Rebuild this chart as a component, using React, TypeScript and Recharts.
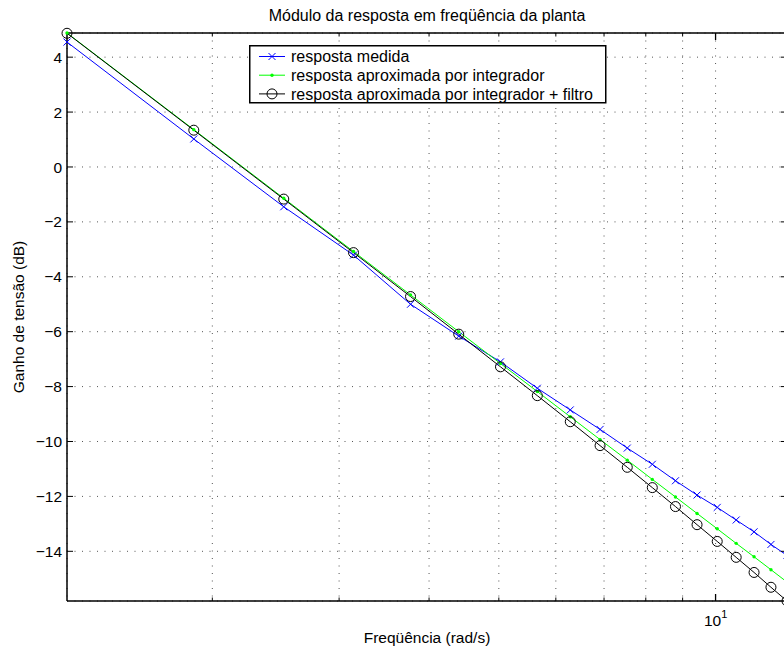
import React from "react";
import {
  CartesianGrid,
  Customized,
  Legend,
  Line,
  LineChart,
  ReferenceLine,
  XAxis,
  YAxis,
} from "recharts";

// frequências (rad/s) e ganhos (dB)
const freq = [
  1.2566, 1.885, 2.5133, 3.1416, 3.7699, 4.3982, 5.0265, 5.6549, 6.2832,
  6.9115, 7.5398, 8.1681, 8.7965, 9.4248, 10.0531, 10.6814, 11.3097, 11.9381,
  12.5664,
];
const medida = [
  4.55, 1.02, -1.45, -3.21, -5.0, -6.16, -7.1, -8.06, -8.85, -9.56, -10.24,
  -10.83, -11.43, -11.95, -12.4, -12.86, -13.29, -13.75, -14.15,
];
const integrador = [
  4.88, 1.36, -1.14, -3.08, -4.66, -6.0, -7.16, -8.18, -9.1, -9.93, -10.68,
  -11.38, -12.02, -12.62, -13.18, -13.71, -14.2, -14.67, -15.12,
];
const filtro = [
  4.87, 1.34, -1.17, -3.12, -4.72, -6.09, -7.28, -8.33, -9.28, -10.15, -10.94,
  -11.68, -12.37, -13.03, -13.64, -14.22, -14.77, -15.31, -15.81,
];

const seriesLabels = [
  "resposta medida",
  "resposta aproximada por integrador",
  "resposta aproximada por integrador + filtro",
];

const xTicks = [2, 3, 4, 5, 6, 7, 8, 9, 10];
const yTicks = [-14, -12, -10, -8, -6, -4, -2, 0, 2, 4];
const xDomain = [1.2566, 12.5664];
const yDomain = [-15.81, 4.88];

const data = freq.map((f, i) => ({
  freq: f,
  medida: medida[i],
  integrador: integrador[i],
  filtro: filtro[i],
}));

const FONT = '"Liberation Sans", Arial, Helvetica, sans-serif';
const LEFT = 67;
const RIGHT = 787;
const TOP = 33;
const BOTTOM = 601;

const BLUE = "#0000ff";
const GREEN = "#00ff00";

function YTick({ y, payload }: any) {
  const v = payload.value;
  return (
    <g>
      <line x1={LEFT} x2={LEFT + 6} y1={y} y2={y} stroke="#000" />
      <line x1={RIGHT - 6} x2={RIGHT} y1={y} y2={y} stroke="#000" />
      <text x={62} y={y} dy="0.36em" textAnchor="end" fontSize={15.5} fill="#000">
        {v < 0 ? `\u2212${-v}` : String(v)}
      </text>
    </g>
  );
}

function XTick({ x, payload }: any) {
  const major = payload.value === 10;
  const len = major ? 7 : 3.5;
  return (
    <g>
      <line x1={x} x2={x} y1={BOTTOM} y2={BOTTOM - len} stroke="#000" strokeWidth={major ? 1.3 : 1} />
      <line x1={x} x2={x} y1={TOP} y2={TOP + len} stroke="#000" strokeWidth={major ? 1.3 : 1} />
      {major && (
        <text x={x} y={626} textAnchor="middle" fontSize={15.5} fill="#000">
          10
          <tspan dy={-8} fontSize={11}>
            1
          </tspan>
        </text>
      )}
    </g>
  );
}

function CrossDot(p: any) {
  const { cx, cy, index } = p;
  const s = 3.5;
  return (
    <path
      key={`x${index}`}
      d={`M${cx - s},${cy - s}L${cx + s},${cy + s}M${cx - s},${cy + s}L${cx + s},${cy - s}`}
      stroke={BLUE}
      strokeWidth={1}
      fill="none"
    />
  );
}

function PointDot(p: any) {
  const { cx, cy, index } = p;
  return <circle key={`p${index}`} cx={cx} cy={cy} r={1.7} fill={GREEN} />;
}

function CircleDot(p: any) {
  const { cx, cy, index } = p;
  return <circle key={`o${index}`} cx={cx} cy={cy} r={5} fill="none" stroke="#000" strokeWidth={1} />;
}

function LegendBox() {
  const colors = [BLUE, GREEN, "#000"];
  return (
    <svg width={358} height={59} style={{ display: "block", fontFamily: FONT }}>
      <rect x={0.75} y={0.75} width={356} height={57} fill="#fff" stroke="#000" strokeWidth={1.5} />
      {seriesLabels.map((label, i) => {
        const cy = 11.5 + i * 18.7;
        return (
          <g key={label}>
            <line x1={10} x2={36} y1={cy} y2={cy} stroke={colors[i]} strokeWidth={1} />
            {i === 0 && <CrossDot cx={23} cy={cy} index={0} />}
            {i === 1 && <PointDot cx={23} cy={cy} index={0} />}
            {i === 2 && <CircleDot cx={23} cy={cy} index={0} />}
            <text x={42} y={cy} dy="0.36em" fontSize={16} fill="#000">
              {label}
            </text>
          </g>
        );
      })}
    </svg>
  );
}

function Labels() {
  return (
    <g fill="#000">
      <text x={427} y={21} textAnchor="middle" fontSize={16}>
        Módulo da resposta em freqüência da planta
      </text>
      <text x={427} y={643} textAnchor="middle" fontSize={15.5}>
        Freqüência (rad/s)
      </text>
      <text transform="translate(24,317) rotate(-90)" textAnchor="middle" fontSize={15.5}>
        Ganho de tensão (dB)
      </text>
    </g>
  );
}

export default function App() {
  return (
    <div
      style={{
        position: "absolute",
        left: 0,
        top: 0,
        width: 784,
        height: 650,
        overflow: "hidden",
        background: "#fff",
      }}
    >
      <LineChart
        width={787}
        height={650}
        data={data}
        margin={{ top: TOP, right: 0, bottom: 0, left: 0 }}
        style={{ fontFamily: FONT }}
      >
        <CartesianGrid stroke="#555" strokeDasharray="1 6.5" />
        <XAxis
          dataKey="freq"
          type="number"
          scale="log"
          domain={xDomain}
          ticks={xTicks}
          interval={0}
          tick={<XTick />}
          tickLine={false}
          axisLine={{ stroke: "#000", strokeWidth: 1.5 }}
          height={650 - BOTTOM}
        />
        <YAxis
          type="number"
          domain={yDomain}
          ticks={yTicks}
          interval={0}
          tick={<YTick />}
          tickLine={false}
          axisLine={{ stroke: "#000", strokeWidth: 1.5 }}
          width={LEFT}
        />
        <ReferenceLine y={yDomain[1]} stroke="#000" strokeWidth={1.5} />
        <ReferenceLine x={xDomain[1]} stroke="#000" strokeWidth={1.5} />
        <Line
          dataKey="medida"
          stroke={BLUE}
          strokeWidth={1}
          dot={CrossDot}
          activeDot={false}
          isAnimationActive={false}
        />
        <Line
          dataKey="integrador"
          stroke={GREEN}
          strokeWidth={1}
          dot={PointDot}
          activeDot={false}
          isAnimationActive={false}
        />
        <Line
          dataKey="filtro"
          stroke="#000"
          strokeWidth={1}
          dot={CircleDot}
          activeDot={false}
          isAnimationActive={false}
        />
        <Legend
          layout="vertical"
          align="center"
          verticalAlign="middle"
          content={<LegendBox />}
          wrapperStyle={{ position: "absolute", left: 249, top: 45, width: 358, height: 59 }}
        />
        <Customized component={Labels} />
      </LineChart>
    </div>
  );
}
